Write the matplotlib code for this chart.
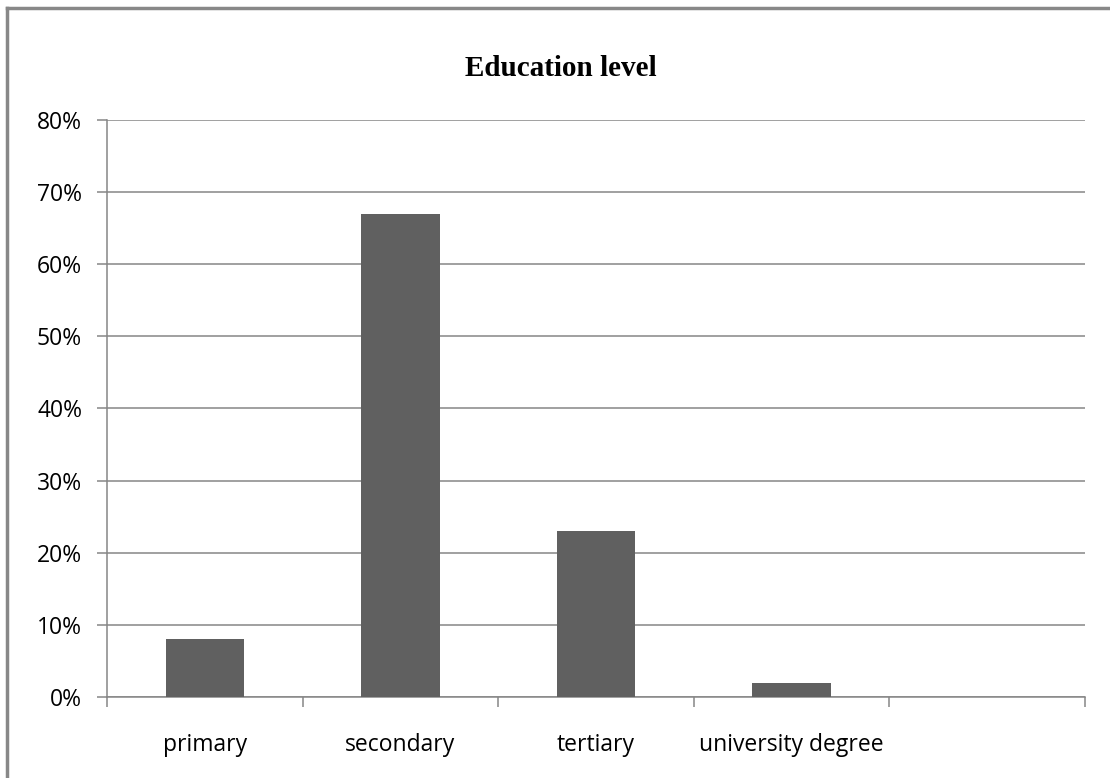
import numpy as np
import matplotlib
matplotlib.use("Agg")
import matplotlib.pyplot as plt
from matplotlib.lines import Line2D
from matplotlib.ticker import FuncFormatter, MultipleLocator

# education level shares (percent); last slot on the axis is left empty
categories = ["primary", "secondary", "tertiary", "university degree", ""]
shares = [8, 67, 23, 2, 0]
title = "Education level"

grid_col = "#868686"
bar_col = "#606060"

fig = plt.figure(figsize=(11.1, 7.78), dpi=100)
ax = fig.add_axes([0.0964, 0.1041, 0.8811, 0.7417])

x = np.arange(len(categories))
vals = [v if v > 0 else np.nan for v in shares]
ax.bar(x, vals, width=0.4, color=bar_col, zorder=3)

ax.set_xlim(-0.5, len(categories) - 0.5)
ax.set_ylim(0, 80)
ax.yaxis.set_major_locator(MultipleLocator(10))
ax.yaxis.set_major_formatter(FuncFormatter(lambda v, _: f"{v:.0f}%"))
ax.grid(axis="y", color=grid_col, linewidth=1.1, zorder=0)

# category labels centred in each slot, ticks on slot boundaries
ax.set_xticks(np.arange(len(categories) + 1) - 0.5)
ax.set_xticklabels([])
ax.set_xticks(x, minor=True)
ax.set_xticklabels(categories, minor=True)
ax.tick_params(axis="x", which="minor", length=0, pad=26, labelsize=16.5)
ax.tick_params(axis="x", which="major", length=7, width=1.1, color=grid_col, direction="out")
ax.tick_params(axis="y", length=7, width=1.1, color=grid_col, labelsize=16.5, pad=11)
for lbl in ax.get_xticklabels(minor=True) + ax.get_yticklabels():
    lbl.set_fontfamily("Open Sans")

for side in ["top", "right"]:
    ax.spines[side].set_visible(False)
for side in ["left", "bottom"]:
    ax.spines[side].set_color(grid_col)
    ax.spines[side].set_linewidth(1.1)

fig.text(0.5054, 0.912, title, ha="center", va="center",
         fontsize=21, fontweight="bold", family="Liberation Serif")

# chart frame
fig.add_artist(Line2D([7 / 1110, 7 / 1110], [0, 1 - 8 / 778], color="#888888", lw=2.5))
fig.add_artist(Line2D([7 / 1110, 1], [1 - 8 / 778, 1 - 8 / 778], color="#888888", lw=2.5))

fig.savefig("out.png", dpi=100)
